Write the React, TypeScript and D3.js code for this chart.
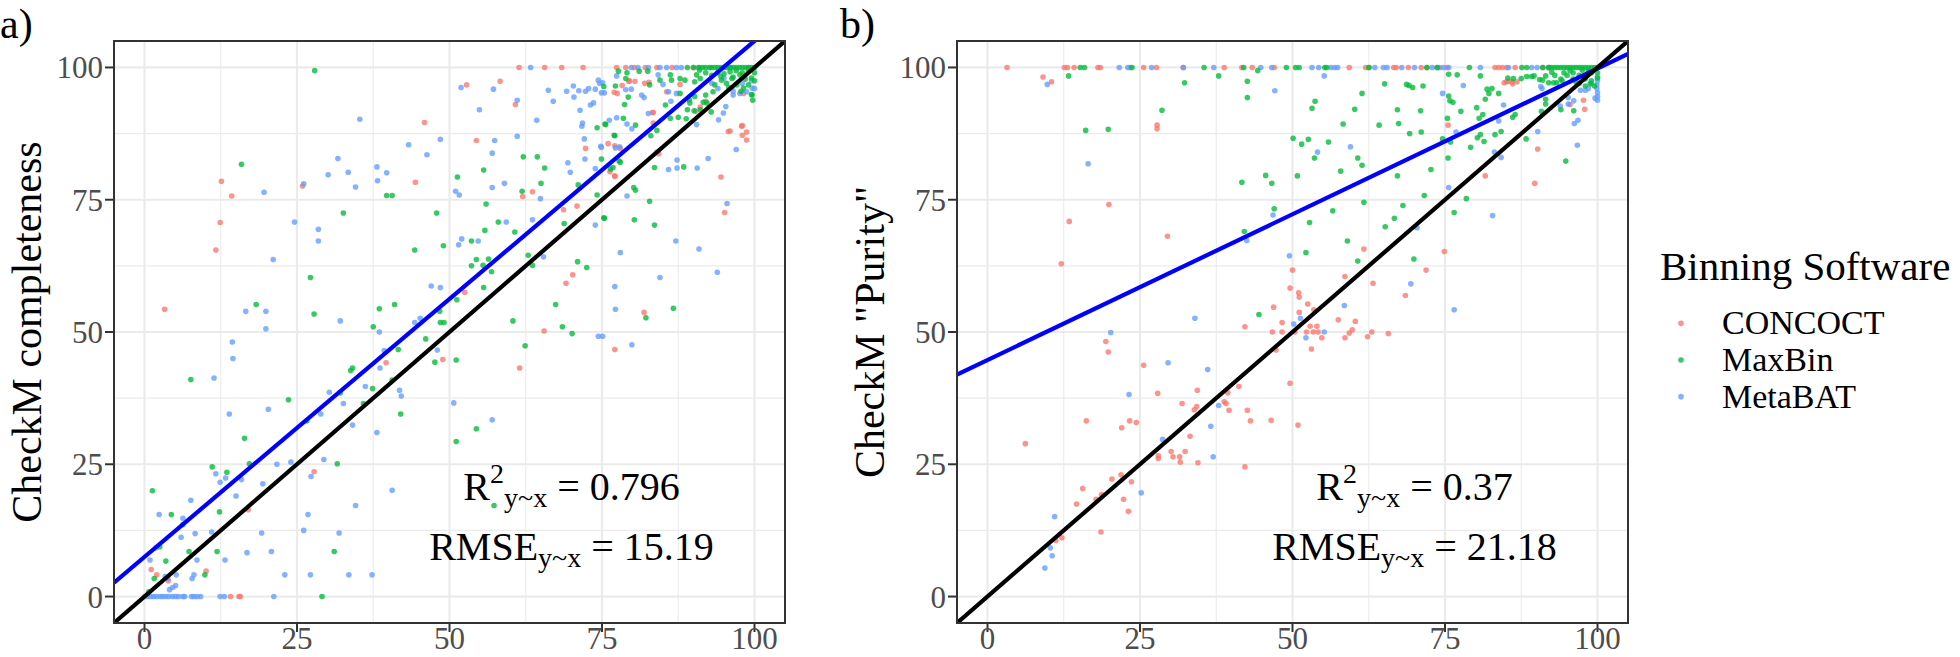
import React from 'react';
import * as d3 from 'd3';

// ---- data ----
const majorTicks = [0, 25, 50, 75, 100];
const minorTicks = [12.5, 37.5, 62.5, 87.5];
const software = ['CONCOCT', 'MaxBin', 'MetaBAT'];
const swColors = ['#F8766D', '#00BA38', '#619CFF'];

// panel a: x = reference completeness, y = CheckM completeness
const compConcoct: [number, number][] = [
  [0, 0], [3.3, 54.3], [12.6, 78.5], [14.3, 75.7], [12.4, 70.7], [11.7, 65.5], [25.9, 77.6], [44.4, 78.3],
  [45.9, 89.6], [39.6, 44.2], [48.9, 44.8], [27.8, 23.6], [17.0, 16.4], [1.9, 9.2], [1.1, 5.1], [2.0, 4.1],
  [3.9, 3.0], [10.1, 4.8], [14.1, 0], [15.5, 0], [15.7, 0], [61.4, 100], [65.6, 100], [68.4, 100], [71.9, 100],
  [52.8, 96.7], [58.3, 97.4], [60.8, 93.0], [54.4, 86.2], [63.6, 76.5], [62.0, 75.6], [72.3, 84.7], [70.9, 73.8],
  [68.7, 73.1], [77.1, 79.4], [76.0, 85.6], [83.3, 91.5], [94.5, 79.3], [95.1, 72.6], [96.0, 88.0], [98.0, 89.0],
  [98.7, 87.8], [98.0, 87.2], [98.7, 86.3], [52.5, 57.5], [61.5, 43.2], [65.5, 50.2], [69.1, 59.2], [70.2, 60.8],
  [77.1, 46.7], [81.9, 53.7], [84.3, 83.7], [79.5, 97.5], [78.3, 96.6], [82.7, 97.2], [77.4, 100], [78.9, 100],
  [80.3, 100], [82.1, 100], [84, 100], [86.5, 100], [90, 100], [82.0, 97], [77.0, 95.3], [77.5, 95.1], [79.4, 97.4],
  [80.4, 97.4], [83.4, 91.5], [83.4, 89.5], [85.6, 95.4], [87.8, 96.8], [91.1, 92.5], [92.0, 93.6], [90.4, 91.7],
  [98.2, 95.1], [95.7, 87.9], [97.9, 88.9], [77.1, 85.2], [78.0, 84.7], [84.0, 84.0], [76.3, 80.3], [77.1, 79.5],
];

const compMaxbin: [number, number][] = [
  [27.9, 99.4], [15.9, 81.7], [7.6, 41.0], [18.3, 55.2], [27.2, 60.3], [27.8, 53.4], [23.6, 37.2], [16.4, 29.9],
  [32.6, 72.5], [39.7, 75.8], [40.6, 75.8], [44.3, 65.5], [47.9, 72.5], [49.0, 66.3], [37.5, 51.0], [38.5, 54.4],
  [41.0, 55.2], [48.4, 53.9], [49.1, 51.8], [48.5, 51.8], [46.1, 48.7], [41.6, 46.7], [47.6, 44.3], [33.8, 42.7],
  [34.1, 43.2], [37.4, 39.3], [32.1, 38.5], [35.9, 36.5], [40.6, 40.9], [42.0, 34.5], [26.6, 33.2], [31.6, 25.1],
  [31.1, 8.5], [29.1, 0], [17.2, 25.1], [13.5, 23.5], [11.1, 24.5], [12.3, 16.0], [11.9, 8.5], [9.9, 4.1],
  [7.3, 8.5], [6.3, 13.6], [4.4, 15.5], [2.5, 9.4], [1.3, 20.0], [3.5, 6.7], [1.6, 3.4], [0.7, 0.9],
  [51.3, 79.3], [55.6, 80.6], [62.1, 83.1], [64.4, 83.1], [65.6, 81.0], [65.0, 78.1], [61.9, 76.6], [56.0, 74.2],
  [58.0, 70.8], [60.7, 68.9], [55.8, 69.2], [53.6, 67.2], [54.4, 63.7], [53.6, 62.5], [55.5, 62.6], [56.4, 63.8],
  [56.9, 61.4], [55.6, 58.4], [51.2, 56.1], [62.9, 64.5], [63.6, 62.6], [60.4, 52.1], [67.4, 55.2], [68.5, 51.0],
  [70.1, 49.7], [62.4, 47.4], [51.1, 44.7], [57.3, 17.2], [54.4, 31.7], [51.1, 29.3], [71.0, 63.3], [72.5, 62.2],
  [74.2, 75.9], [75.4, 71.5], [74.9, 82.7], [77.0, 87.2], [75.6, 89.2], [74.2, 88.6], [68.8, 70.5], [71.1, 77.8],
  [76.4, 80.8], [78.0, 82.1], [80.2, 77.3], [80.5, 76.8], [80.3, 71.2], [82.8, 74.7], [83.6, 70.2], [82.2, 52.7],
  [86.7, 54.5], [88.4, 81.2], [83.6, 81.1], [78.7, 93.0], [79.3, 94.4], [99.7, 93.8], [99.5, 94.9],
  [77.7, 99.3], [79.1, 99], [81.1, 99.3], [82.5, 99.3], [78.9, 97.9], [77.2, 96.5], [75.3, 96.4], [78.5, 90.4],
  [75.5, 89.3], [77.1, 87.1], [80.5, 89.1], [83.0, 87.1], [84.0, 88.1], [85.4, 92.9], [86.2, 90.4], [87.5, 90.6],
  [88.8, 90.3], [89.0, 92.0], [89.4, 93.3], [87.8, 95.1], [90.5, 98.6], [91.1, 97.9], [90.2, 97.3], [92.0, 94.8],
  [93.5, 96.7], [93.2, 95.4], [94.6, 97.6], [95.4, 97.0], [96.3, 97.9], [97.1, 96.7], [97.6, 98.6], [98.2, 96.1],
  [99.0, 96.7], [99.6, 94.8], [87.8, 97.9], [88.6, 97.6], [86.4, 97.6], [86.2, 98.6], [82.8, 96.7], [84.5, 97.6],
  [92.9, 91.6], [91.6, 93.4], [91.1, 92.0], [90.2, 94.5], [89.3, 93.9], [90.1, 91.8], [92.2, 93.3], [94, 99],
  [95, 98.8], [96, 99.2], [97, 99.4], [98, 99], [99, 99.3], [93, 98.5], [92, 99], [91, 99.5], [96.5, 98.2],
  [94.5, 98.3], [98.5, 97.8], [99.5, 98], [100, 99], [100, 97.5], [95.8, 96.2], [97.8, 95.5], [75.3, 71.6],
  [76.8, 81.1], [77.8, 82.3], [89, 100], [90, 100], [90.8, 100], [91.5, 100], [92, 100], [92.6, 100], [93, 100],
  [93.5, 100], [94, 100], [94.5, 100], [95, 100], [95.5, 100], [96, 100], [96.5, 100], [97, 100], [97.5, 100],
  [98, 100], [98.5, 100], [99, 100], [99.5, 100], [100, 100],
];

const compMetabat: [number, number][] = [
  [35.3, 90.2], [43.3, 85.4], [48.5, 86.4], [46.3, 83.5], [31.7, 82.8], [30.1, 79.7], [33.4, 80.2], [34.6, 77.4],
  [38.1, 81.2], [38.2, 78.6], [39.7, 80.1], [26.1, 78.0], [19.6, 76.4], [24.6, 70.8], [28.5, 69.4], [28.5, 67.2],
  [21.1, 63.7], [16.6, 53.9], [19.9, 53.9], [19.9, 50.6], [14.4, 48.1], [14.5, 45.0], [11.4, 41.3], [13.9, 34.5],
  [20.3, 35.4], [28.9, 34.5], [32.1, 52.1], [38.5, 50.0], [38.6, 43.2], [39.3, 46.5], [44.3, 51.8], [45.2, 52.6],
  [47.0, 58.7], [48.5, 58.4], [48.0, 46.6], [36.2, 39.7], [30.3, 38.6], [32.6, 36.5], [41.8, 39.0], [42.1, 37.9],
  [34.1, 32.4], [38.1, 31.0], [29.4, 25.9], [24.0, 25.4], [21.7, 25.0], [27.3, 22.7], [19.4, 21.3], [15.9, 22.1],
  [13.3, 22.4], [11.7, 23.2], [12.4, 21.6], [15.0, 19.0], [7.6, 18.2], [2.4, 15.5], [6.3, 14.8], [6.0, 11.2],
  [8.3, 11.9], [11.0, 12.2], [19.2, 12.0], [26.1, 12.5], [26.8, 15.5], [31.9, 12.0], [34.6, 17.2], [40.6, 20.1],
  [16.8, 8.3], [20.8, 8.5], [8.6, 6.9], [13.2, 6.9], [0.9, 6.9], [5.2, 4.1], [8.1, 4.1], [7.8, 3.4], [3.4, 3.8],
  [3.8, 3.4], [5.1, 2.1], [4.6, 1.7], [4.1, 1.3], [23.0, 4.1], [27.2, 4.1], [33.5, 4.1], [37.3, 4.1], [21.2, 0],
  [0.5, 0], [1.0, 0], [1.5, 0], [2.0, 0], [2.6, 0], [3.0, 0], [3.5, 0], [4.0, 0], [4.6, 0], [5.1, 0], [5.6, 0],
  [6.3, 0], [6.6, 0], [7.7, 0], [8.1, 0], [8.6, 0], [9.2, 0], [12.4, 0], [13.1, 0],
  [51.9, 96.2], [57.2, 95.9], [61.1, 93.8], [54.9, 92.0], [57.4, 86.2], [61.1, 87.0], [57.0, 83.8], [64.3, 90.0],
  [66.2, 95.7], [67.0, 93.6], [69.2, 95.5], [70.3, 96.5], [71.2, 95.6], [70.4, 94.4], [71.4, 91.9], [71.8, 89.5],
  [71.7, 88.9], [72.3, 95.5], [72.8, 96.0], [73.9, 95.9], [74.4, 97.6], [75.1, 97.1], [74.9, 95.2], [75.4, 95.2],
  [73.1, 92.9], [73.6, 93.3], [72.1, 86.5], [69.4, 82.0], [69.8, 80.2], [72.2, 82.7], [73.9, 80.9], [74.8, 85.1],
  [77.4, 90.5], [77.9, 85.0], [77.2, 84.8], [79.1, 75.7], [73.9, 70.2], [63.6, 71.2], [59.3, 70.8], [64.9, 75.2],
  [59.0, 78.1], [57.0, 77.3], [51.0, 76.6], [51.6, 75.9], [54.7, 67.2], [52.0, 67.6], [51.5, 66.5], [65.4, 64.2],
  [78.0, 65.0], [77.1, 58.6], [77.2, 54.3], [74.4, 49.2], [75.1, 49.2], [79.9, 47.6], [84.5, 60.3], [87.1, 67.2],
  [90.9, 65.7], [93.9, 61.3], [95.5, 74.3], [85.9, 80.7], [87.3, 81.0], [87.3, 82.5], [90.6, 81.0], [92.4, 82.8],
  [97.0, 84.5], [50.7, 36.6], [57.0, 33.4], [63.3, 100], [79.8, 100], [80.9, 100], [82.6, 100], [84.5, 100],
  [85.6, 100], [87.2, 100], [88, 100], [91, 100], [96, 100], [99, 100], [74.6, 97], [77.4, 98.4], [78.9, 95.8],
  [79.8, 95.9], [81.5, 94.8], [81.9, 94.3], [82.6, 91.3], [84.2, 98.6], [85.0, 96.8], [85.9, 95.4], [86.3, 93.6],
  [87.2, 95.1], [90.5, 89.2], [94.1, 90.1], [94.9, 91.4], [95.3, 92.6], [79.1, 89.3], [79.9, 88.4], [76.2, 90.0],
  [74.9, 84.9], [96.3, 96.2], [96.5, 94.8], [97.6, 95.1], [98.7, 95.4], [99.6, 96.1], [93, 97], [94, 96], [95, 98],
  [96.5, 95.5], [98, 97], [100, 96], [99.5, 97.5],
];

// panel b: x = reference purity, y = CheckM "purity"
const purConcoct: [number, number][] = [
  [3.2, 100], [12.6, 100], [13.1, 100], [14.2, 100], [18.1, 100], [18.5, 100], [25.6, 100], [27.7, 100],
  [32.1, 100], [38.8, 100], [41.7, 100], [43.4, 100], [47.0, 100], [59.3, 100], [62.0, 100], [62.6, 100],
  [66.6, 100], [67.0, 100], [69.0, 100], [71.1, 100], [72.1, 100], [74.1, 100], [75.3, 100], [83.2, 100],
  [83.8, 100], [84.4, 100], [85.1, 100], [86.5, 100], [91.1, 100], [92.0, 100],
  [9.1, 98.2], [10.5, 97.3], [27.8, 89.1], [27.8, 88.4], [19.9, 74.1], [13.4, 70.9], [12.1, 62.9], [29.5, 68.1],
  [6.2, 28.9], [19.4, 48.2], [19.8, 46.2], [25.6, 43.7], [27.9, 38.4], [16.2, 33.2], [22.0, 31.9], [23.3, 33.2],
  [24.4, 32.9], [31.9, 36.5], [34.4, 39.0], [34.3, 35.9], [33.9, 35.3], [33.2, 30.3], [32.4, 27.4], [30.1, 27.4],
  [30.4, 26.4], [31.5, 26.4], [31.6, 25.4], [28.0, 26.6], [28.0, 26.1], [34.5, 25.3], [42.2, 51.0], [41.2, 39.7],
  [39.4, 38.5], [38.8, 36.8], [39.1, 36.5], [39.6, 35.2], [42.6, 35.2], [43.1, 33.2], [42.2, 24.5], [20.4, 22.2],
  [21.9, 23.0], [23.6, 21.7], [15.6, 20.4], [14.6, 17.5], [17.8, 18.4], [18.7, 19.3], [22.3, 18.4], [23.1, 16.1],
  [18.6, 12.2], [12.2, 11.1], [11.2, 10.6], [46.5, 33.3], [50.9, 32.4], [49.6, 40.3], [61.7, 65.7], [74.9, 65.2],
  [71.9, 61.7], [58.6, 60.5], [63.2, 59.2], [68.5, 56.9], [50.0, 61.7], [49.6, 58.3], [51.0, 57.4], [51.1, 56.6],
  [46.9, 54.7], [52.5, 55.3], [53.5, 54.2], [51.1, 53.7], [57.5, 52.3], [60.3, 52.0], [46.7, 50.0], [48.3, 51.8],
  [48.3, 50.0], [50.4, 50.0], [52.3, 50.0], [52.9, 51.1], [53.4, 50.0], [54.0, 51.1], [54.2, 50.0], [54.8, 48.9],
  [53.1, 46.8], [47.3, 46.6], [58.6, 48.9], [59.3, 49.8], [59.8, 50.4], [62.3, 49.1], [63.0, 50.0], [65.7, 49.7],
  [75.5, 89.1], [81.6, 79.5], [89.7, 78.1], [90.2, 84.6], [84.7, 97.1], [85.1, 97.3], [97.9, 92.1], [97.7, 93.8],
  [85.4, 97.4], [86.0, 97.3], [86.8, 97.3], [86.1, 96.9], [95.5, 93.0],
];

const purMaxbin: [number, number][] = [
  [15.2, 100], [15.9, 100], [23.7, 100], [35.5, 100], [42.0, 100], [49.0, 100], [50.5, 100], [51.1, 100],
  [55.3, 100], [55.6, 100], [62.5, 100], [72.0, 100], [73.7, 100], [79.0, 100], [87.6, 100], [88.4, 100],
  [91, 100], [92, 100], [92.5, 100], [93, 100], [93.5, 100], [94, 100], [94.5, 100], [95, 100], [95.5, 100],
  [96, 100], [96.5, 100], [97, 100], [97.5, 100], [98, 100], [98.5, 100], [99, 100], [99.5, 100], [100, 100],
  [13.3, 98.4], [44.3, 99.4], [32.3, 97.1], [37.9, 98.4], [42.6, 97.4], [42.6, 94.3], [28.6, 91.9], [53.2, 92.3],
  [53.7, 93.6], [60.2, 92.1], [61.4, 95.1], [65.1, 96.9], [68.7, 96.8], [69.1, 96.6], [69.7, 96.2], [67.2, 92.0],
  [71.0, 91.8], [71.4, 96.5], [75.6, 98.7], [16.1, 88.1], [19.8, 88.3], [41.7, 78.3], [42.1, 69.0], [44.5, 53.3],
  [45.6, 79.6], [58.3, 89.3], [50.1, 86.6], [51.5, 85.5], [52.6, 86.4], [55.9, 85.9], [53.6, 82.9], [60.7, 82.9],
  [61.4, 81.5], [57.9, 80.4], [50.8, 79.5], [46.6, 78.1], [47.0, 73.3], [56.6, 72.9], [52.8, 70.7], [61.7, 74.5],
  [68.1, 73.9], [66.7, 71.5], [65.2, 69.9], [59.0, 67.2], [60.7, 63.4], [52.2, 65.0], [69.9, 63.8], [67.2, 79.5],
  [67.4, 89.4], [64.2, 89.1], [69.2, 87.5], [71.1, 87.8], [72.7, 80.7], [71.6, 75.8], [76.5, 72.6], [78.5, 75.2],
  [77.0, 98.6], [80.8, 98.4], [75.6, 94.6], [75.8, 93.7], [76.3, 93.4], [75.4, 90.4], [77.6, 91.7], [74.6, 86.5],
  [75.9, 85.9], [75.5, 82.9], [79.2, 84.9], [80.2, 92.4], [81.6, 94.0], [81.9, 95.9], [82.7, 96.0], [82.2, 95.1],
  [83.8, 95.1], [80.6, 90.4], [81.2, 91.1], [80.3, 86.7], [81.4, 86.0], [80.8, 87.3], [83.2, 87.3], [84.2, 87.9],
  [86.1, 90.6], [86.5, 91.1], [88.3, 86.5], [85.3, 98.0], [86.2, 97.9], [87.5, 97.9], [88.4, 98.3], [89.2, 98.3],
  [90.8, 91.7], [91.5, 93.1], [91.5, 94.0], [91.0, 97.6], [92.0, 97.1], [92.8, 97.1], [93.3, 97.1], [94.2, 97.5],
  [94.0, 92.0], [96.1, 91.8], [94.8, 82.3], [98.8, 96.9], [96, 99], [97, 98.5], [98, 98], [99, 97.5], [100, 98],
  [100, 99], [98.5, 99.3], [97.5, 99.5], [95, 98.5], [94, 97.8], [93, 98.5], [96.5, 97.2], [99.5, 96.5],
  [92.5, 99.1], [95.5, 99.4], [91.5, 98.4], [90.5, 97.7], [89.6, 98.4], [97, 97], [98, 96.5], [99, 99],
  [94.5, 99], [96, 97.8],
];

const purMetabat: [number, number][] = [
  [21.6, 100], [23.0, 100], [23.4, 100], [26.9, 100], [32.1, 100], [37.1, 100], [44.8, 100], [46.6, 100],
  [53.2, 100], [54.3, 100], [56.3, 100], [56.9, 100], [57.4, 100], [63.5, 100], [64.9, 100], [65.5, 100],
  [67.9, 100], [70.0, 100], [72.9, 100], [73.8, 100], [74.7, 100], [75.6, 100], [80.8, 100], [85.4, 100],
  [89.2, 100], [90.1, 100], [92.0, 100],
  [9.8, 96.8], [47.1, 95.6], [55.2, 98.4], [74.6, 95.1], [16.5, 81.8], [20.2, 49.9], [29.6, 44.2], [34.0, 52.6],
  [36.1, 42.9], [23.2, 38.2], [37.9, 36.1], [36.6, 32.2], [28.7, 29.7], [37.0, 26.4], [25.2, 19.6], [11.0, 15.1],
  [10.3, 9.2], [10.6, 7.7], [9.4, 5.4], [42.5, 67.3], [54.1, 84.0], [59.5, 85.0], [46.8, 72.1], [49.5, 64.4],
  [58.5, 55.0], [52.2, 48.9], [51.3, 52.6], [50.2, 51.5], [55.2, 50.0], [69.4, 59.1], [70.4, 69.7], [76.5, 54.2],
  [75.6, 77.3], [76.8, 87.8], [78.0, 96.6], [83.8, 89.9], [83.1, 84.0], [84.2, 83.0], [82.8, 72.0], [84.6, 92.9],
  [90.2, 87.9], [90.7, 96.4], [90.9, 96.0], [93.9, 92.7], [95.2, 93.1], [96.1, 93.7], [96.2, 89.4], [96.8, 90.0],
  [96.7, 85.3], [97.2, 95.7], [98.0, 95.7], [98.5, 96.0], [99.6, 94.2], [100, 93.8], [99.9, 96.0], [99.9, 96.7],
  [100, 97.5], [95.2, 94.3], [100, 94.5], [100, 95.2], [100, 98.2], [99, 97], [98, 97.8],
];

const fitComp = { intercept: 7.5, slope: 0.975 };
const fitPurity = { intercept: 44.7, slope: 0.551 };
const statsComp = { r2: '0.796', rmse: '15.19' };
const statsPurity = { r2: '0.37', rmse: '21.18' };

// ---- layout ----
const W = 1960;
const H = 657;
const PLOT_TOP = 41;
const PLOT_BOTTOM = 623;
const FONT = '"Liberation Serif", "Times New Roman", Tinos, Times, "DejaVu Serif", "Noto Serif", serif';

type Pt = [number, number];

function Panel({ id, left, right, series, fit, stats, yTitle, tag, tagX }: {
  id: string; left: number; right: number; series: Pt[][]; fit: { intercept: number; slope: number };
  stats: { r2: string; rmse: string }; yTitle: string; tag: string; tagX: number;
}) {
  const x = d3.scaleLinear().domain([-5, 105]).range([left, right]);
  const y = d3.scaleLinear().domain([-5, 105]).range([PLOT_BOTTOM, PLOT_TOP]);
  const line = d3.line<number>().x(d => x(d)).y(d => y(fit.intercept + fit.slope * d));
  const ident = d3.line<number>().x(d => x(d)).y(d => y(d));
  const ends = [-5, 105];
  // draw order: CONCOCT, MetaBAT, MaxBin
  const order = [0, 2, 1];

  return (
    <g>
      <defs>
        <clipPath id={`clip-${id}`}>
          <rect x={left} y={PLOT_TOP} width={right - left} height={PLOT_BOTTOM - PLOT_TOP} />
        </clipPath>
      </defs>
      <text x={tagX} y={38} style={{ fontFamily: FONT }} fontSize={42} fill="#000">{tag}</text>
      <rect x={left} y={PLOT_TOP} width={right - left} height={PLOT_BOTTOM - PLOT_TOP} fill="#fff" />
      {minorTicks.map(t => (
        <g key={`mn${t}`} stroke="#EBEBEB" strokeWidth={1.1}>
          <line x1={x(t)} x2={x(t)} y1={PLOT_TOP} y2={PLOT_BOTTOM} />
          <line x1={left} x2={right} y1={y(t)} y2={y(t)} />
        </g>
      ))}
      {majorTicks.map(t => (
        <g key={`mj${t}`} stroke="#EBEBEB" strokeWidth={2.2}>
          <line x1={x(t)} x2={x(t)} y1={PLOT_TOP} y2={PLOT_BOTTOM} />
          <line x1={left} x2={right} y1={y(t)} y2={y(t)} />
        </g>
      ))}
      <g clipPath={`url(#clip-${id})`}>
        {order.map(si => (
          <g key={si} fill={swColors[si]} fillOpacity={0.78}>
            {series[si].map((p, i) => (
              <circle key={i} cx={x(p[0])} cy={y(p[1])} r={2.8} />
            ))}
          </g>
        ))}
        <path d={line(ends) || ''} stroke="#0000FF" strokeWidth={4.2} fill="none" />
        <path d={ident(ends) || ''} stroke="#000" strokeWidth={4.2} fill="none" />
      </g>
      <rect x={left} y={PLOT_TOP} width={right - left} height={PLOT_BOTTOM - PLOT_TOP}
        fill="none" stroke="#333" strokeWidth={2} />
      {majorTicks.map(t => (
        <g key={`tk${t}`}>
          <line x1={x(t)} x2={x(t)} y1={PLOT_BOTTOM} y2={PLOT_BOTTOM + 9} stroke="#333" strokeWidth={2} />
          <text x={x(t)} y={649} textAnchor="middle" style={{ fontFamily: FONT }} fontSize={31} fill="#4D4D4D">{t}</text>
          <line x1={left - 9} x2={left} y1={y(t)} y2={y(t)} stroke="#333" strokeWidth={2} />
          <text x={left - 11} y={y(t) + 11} textAnchor="end" style={{ fontFamily: FONT }} fontSize={31} fill="#4D4D4D">{t}</text>
        </g>
      ))}
      <text transform={`translate(${left - 73},${(PLOT_TOP + PLOT_BOTTOM) / 2}) rotate(-90)`}
        textAnchor="middle" style={{ fontFamily: FONT }} fontSize={42} fill="#000">{yTitle}</text>
      <text x={x(70)} y={500} textAnchor="middle" style={{ fontFamily: FONT }} fontSize={40} fill="#000">
        R<tspan fontSize={28} dy={-17}>2</tspan><tspan fontSize={28} dy={24}>y~x</tspan>
        <tspan dy={-7}> = {stats.r2}</tspan>
      </text>
      <text x={x(70)} y={560} textAnchor="middle" style={{ fontFamily: FONT }} fontSize={40} fill="#000">
        RMSE<tspan fontSize={28} dy={7}>y~x</tspan><tspan dy={-7}> = {stats.rmse}</tspan>
      </text>
    </g>
  );
}

export default function App() {
  const legendY = d3.scaleBand<string>().domain(software).range([305, 415]);
  return (
    <svg width={W} height={H} style={{ position: 'absolute', left: 0, top: 0, background: '#fff', fontFamily: FONT }}>
      <rect width={W} height={H} fill="#fff" />
      <Panel id="a" left={114} right={785} series={[compConcoct, compMaxbin, compMetabat]} fit={fitComp}
        stats={statsComp} yTitle="CheckM completeness" tag="a)" tagX={0} />
      <Panel id="b" left={957} right={1628} series={[purConcoct, purMaxbin, purMetabat]} fit={fitPurity}
        stats={statsPurity} yTitle={'CheckM "Purity"'} tag="b)" tagX={840} />
      <text x={1660} y={280} style={{ fontFamily: FONT }} fontSize={41} fill="#000">Binning Software</text>
      {software.map((s, i) => {
        const cy = (legendY(s) || 0) + legendY.bandwidth() / 2;
        return (
          <g key={s}>
            <circle cx={1681} cy={cy} r={2.8} fill={swColors[i]} fillOpacity={0.78} />
            <text x={1722} y={cy + 11} style={{ fontFamily: FONT }} fontSize={34} fill="#000">{s}</text>
          </g>
        );
      })}
    </svg>
  );
}
